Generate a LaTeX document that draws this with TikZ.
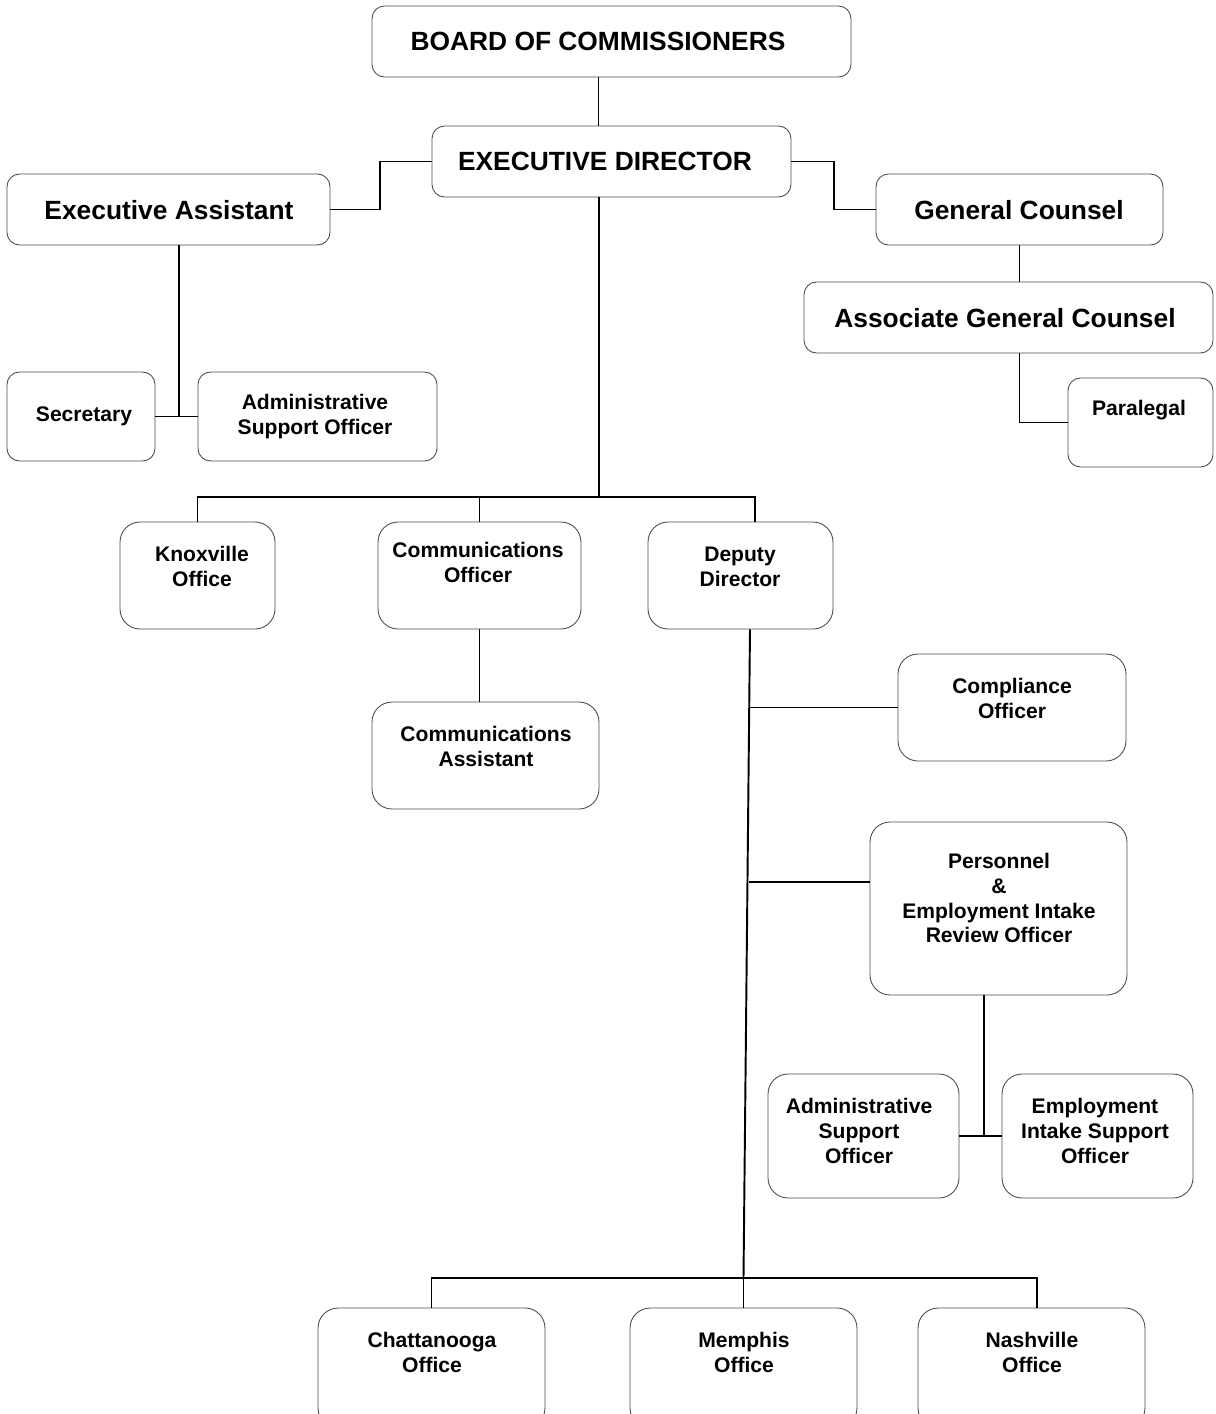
\documentclass[tikz,border=0pt]{standalone}
\usepackage{fontspec}
\setmainfont{Liberation Sans}
\usepackage{tikz}
\usetikzlibrary{positioning}

\begin{document}
\begin{tikzpicture}[
  x=0.02cm, y=-0.02cm,
  box/.style={draw=black!70, line width=0.5pt, rounded corners=0.25cm, inner sep=0pt},
  tall/.style={box, rounded corners=0.4cm},
  big/.style={font=\fontsize{15}{18}\selectfont\bfseries, align=center, inner sep=0pt},
  small/.style={font=\fontsize{12}{14.2}\selectfont\bfseries, align=center, inner sep=0pt},
  link/.style={line width=1.1pt}
]
\useasboundingbox (0,0) rectangle (1215,1414);
\clip (0,0) rectangle (1215,1414);
% top of the chart
\node[box, minimum width=9.58cm, minimum height=1.42cm] (board) at (611.5,41.5) {};
\node[big] (boardt) at (598,41) {BOARD OF COMMISSIONERS};
\node[box, minimum width=7.18cm, minimum height=1.42cm] (exec) at (611.5,161.5) {};
\node[big] (exect) at (605,161) {EXECUTIVE DIRECTOR};
\node[box, minimum width=6.46cm, minimum height=1.42cm] (asst) at (168.5,209.5) {};
\node[big] (asstt) at (169,210) {Executive Assistant};
\node[box, minimum width=5.74cm, minimum height=1.42cm] (gc) at (1019.5,209.5) {};
\node[big] (gct) at (1019,210) {General Counsel};
\node[box, minimum width=8.18cm, minimum height=1.42cm] (agc) at (1008.5,317.5) {};
\node[big] (agct) at (1005,318) {Associate General Counsel};
\node[box, minimum width=2.9cm, minimum height=1.78cm] (para) at (1140.5,422.5) {};
\node[small] (parat) at (1139,410) {Paralegal};
\node[box, minimum width=2.96cm, minimum height=1.78cm] (sec) at (81,416.5) {};
\node[small] (sect) at (84,416) {Secretary};
\node[box, minimum width=4.78cm, minimum height=1.78cm] (adm1) at (317.5,416.5) {};
\node[small] (adm1t) at (315,416.5) {Administrative\\Support Officer};
% second row
\node[tall, minimum width=3.1cm, minimum height=2.14cm] (knox) at (197.5,575.5) {};
\node[small] (knoxt) at (202,566.5) {Knoxville\\Office};
\node[tall, minimum width=4.06cm, minimum height=2.14cm] (comm) at (479.5,575.5) {};
\node[small] (commt) at (478,562.5) {Communications\\Officer};
\node[tall, minimum width=3.7cm, minimum height=2.14cm] (dep) at (740.5,575.5) {};
\node[small] (dept) at (740,566.5) {Deputy\\Director};
\node[tall, minimum width=4.54cm, minimum height=2.14cm] (ca) at (485.5,755.5) {};
\node[small] (cat) at (486,746.5) {Communications\\Assistant};
% under the deputy director
\node[tall, minimum width=4.56cm, minimum height=2.14cm] (comp) at (1012,707.5) {};
\node[small] (compt) at (1012,698.5) {Compliance\\Officer};
\node[tall, minimum width=5.14cm, minimum height=3.46cm] (pers) at (998.5,908.5) {};
\node[small] (perst) at (999,898) {Personnel\\\&\\Employment Intake\\Review Officer};
\node[tall, minimum width=3.82cm, minimum height=2.48cm] (adm2) at (863.5,1136) {};
\node[small] (adm2t) at (859,1130.5) {Administrative\\Support\\Officer};
\node[tall, minimum width=3.82cm, minimum height=2.48cm] (eis) at (1097.5,1136) {};
\node[small] (eist) at (1095,1130.5) {Employment\\Intake Support\\Officer};
\node[tall, minimum width=4.54cm, minimum height=2.4cm] (chat) at (431.5,1368) {};
\node[small] (chatt) at (432,1352.5) {Chattanooga\\Office};
\node[tall, minimum width=4.54cm, minimum height=2.4cm] (mem) at (743.5,1368) {};
\node[small] (memt) at (744,1352.5) {Memphis\\Office};
\node[tall, minimum width=4.54cm, minimum height=2.4cm] (nash) at (1031.5,1368) {};
\node[small] (nasht) at (1032,1352.5) {Nashville\\Office};
% connectors
\draw[link] ([xshift=-0.26cm]board.south) -- ([xshift=-0.26cm]exec.north);
\draw[link] (exec.west) -- ++(-52,0) |- (asst.east);
\draw[link] (exec.east) -- ++(43,0) |- (gc.west);
\draw[link] (gc.south) -- (gc.south |- agc.north);
\draw[link] (gc.south |- agc.south) |- (para.west);
\draw[link] ([xshift=0.21cm]asst.south) -- ([xshift=0.21cm]asst.south |- sec.east);
\draw[link] (sec.east) -- (adm1.west);
\draw[link] ([xshift=-0.25cm]exec.south) -- ++(0,300);
\draw[link] (knox.north) -- ++(0,-25) -| ([xshift=0.29cm]dep.north);
\draw[link] (comm.north) -- ++(0,-25);
\draw[link] (comm.south) -- (comm.south |- ca.north);
\draw[link] ([xshift=0.19cm]dep.south) -- ([yshift=0.6cm]mem.north);
\draw[link] (comp.west) -- ++(-149,0);
\draw[link] ([yshift=0.53cm]pers.west) -- ++(-121,0);
\draw[link] ([xshift=-0.29cm]pers.south) -- ([xshift=-0.29cm]pers.south |- adm2.east);
\draw[link] (adm2.east) -- (eis.west);
\draw[link] (chat.north) -- ++(0,-30) -| ([xshift=0.11cm]nash.north);
\draw[link] (mem.north) -- ++(0,-30);
\end{tikzpicture}
\end{document}
